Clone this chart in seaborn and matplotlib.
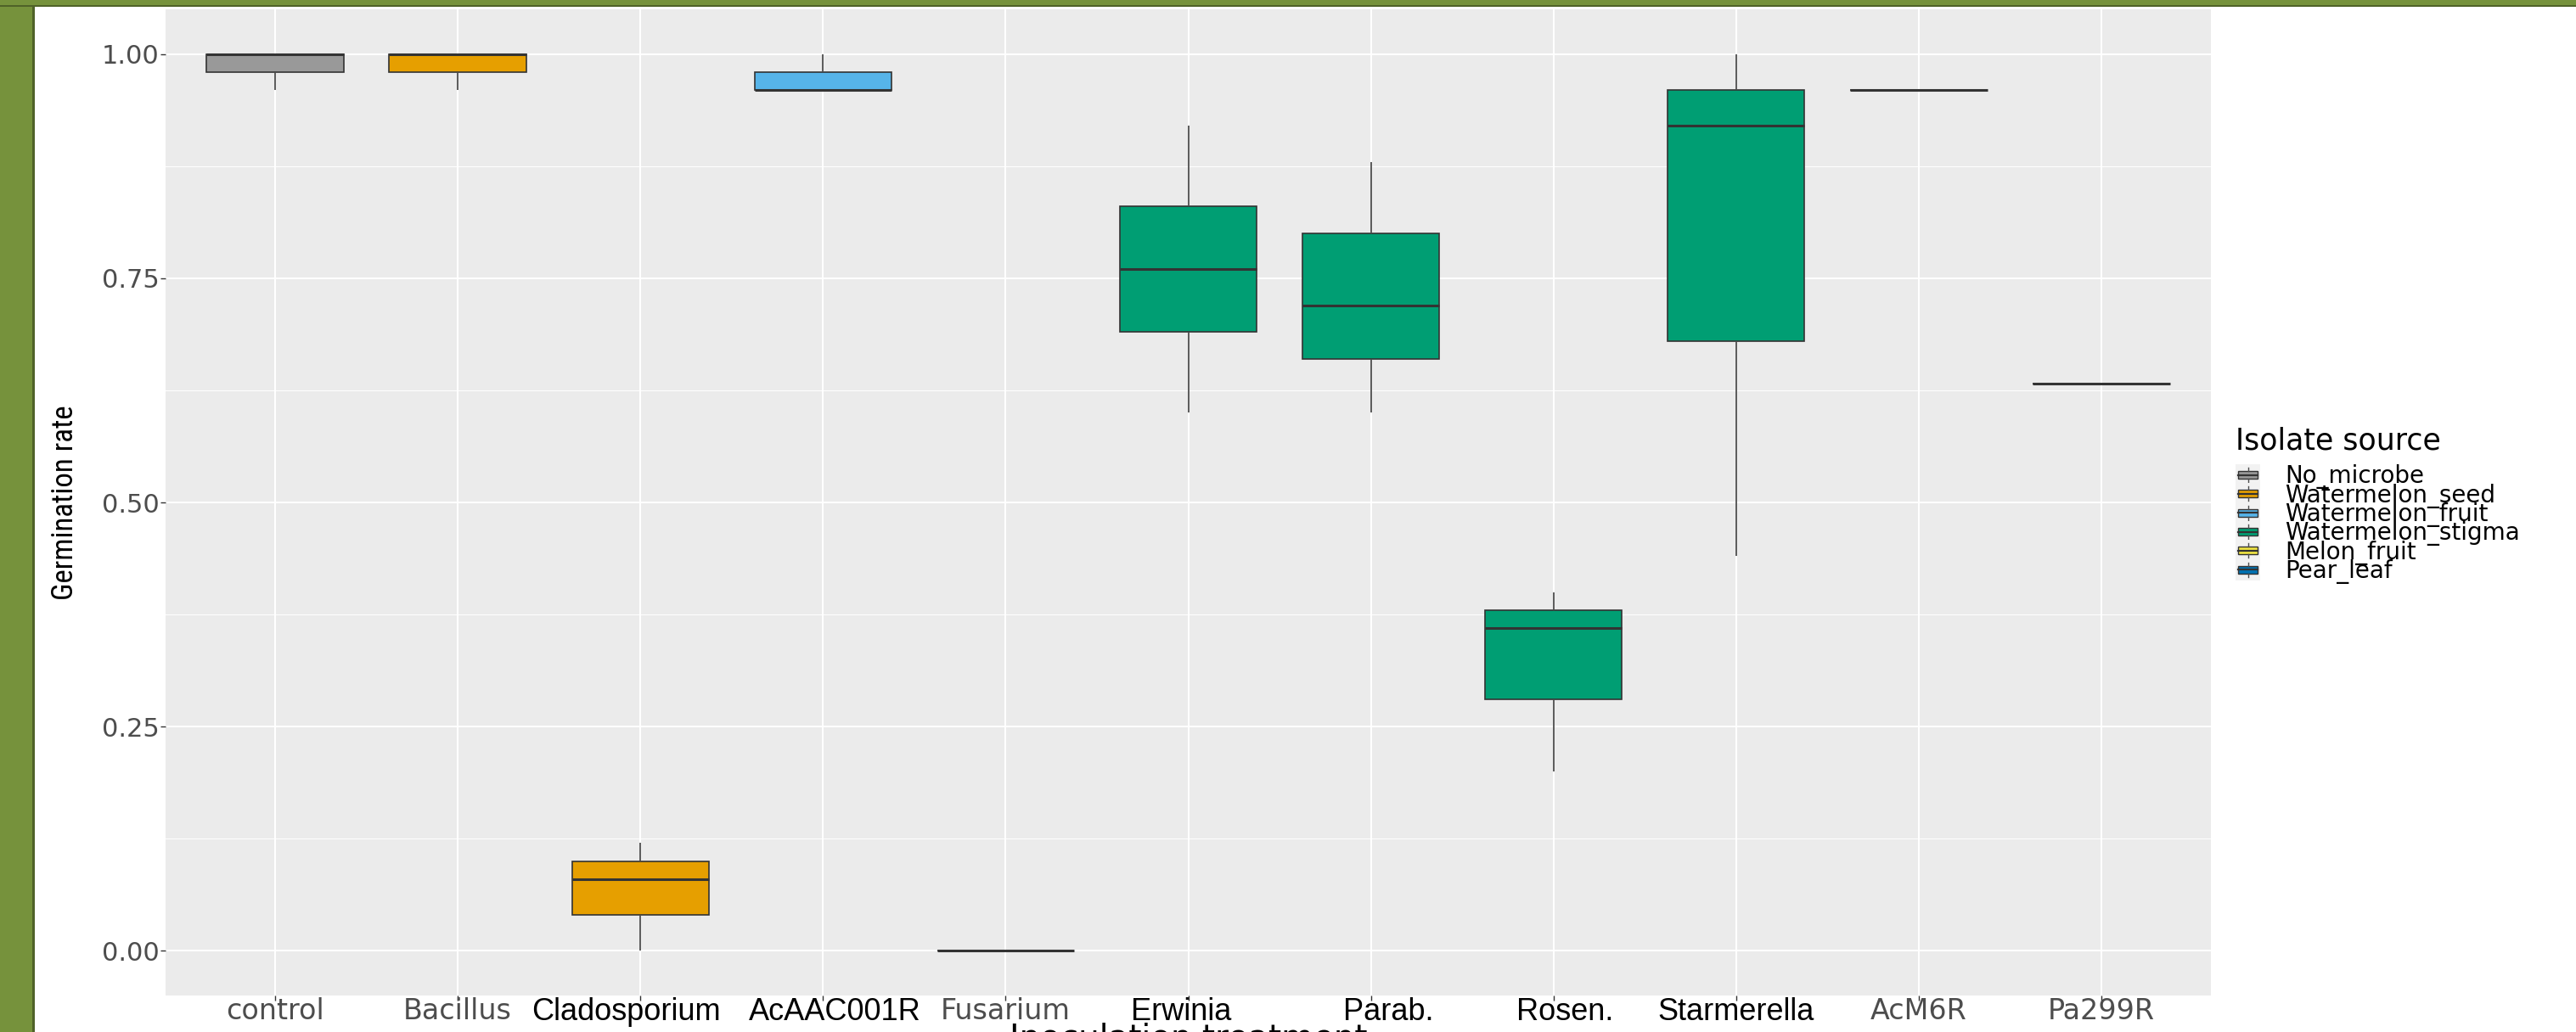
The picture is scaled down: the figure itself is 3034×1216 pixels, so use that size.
import matplotlib
matplotlib.use("Agg")
import matplotlib.pyplot as plt
from matplotlib.patches import Rectangle, Patch
from matplotlib.lines import Line2D
from matplotlib.legend_handler import HandlerBase
from matplotlib.transforms import ScaledTranslation
from matplotlib import font_manager
import seaborn as sns
import pandas as pd

# ---- data -------------------------------------------------------------
treatments = ["control", "Bacillus", "Cladosporium", "AcAAC001R", "Fusarium",
              "Erwinia", "Parab.", "Rosen.", "Starmerella", "AcM6R", "Pa299R"]
treatment_source = ["No_microbe", "Watermelon_seed", "Watermelon_seed",
                    "Watermelon_fruit", "Watermelon_seed", "Watermelon_stigma",
                    "Watermelon_stigma", "Watermelon_stigma", "Watermelon_stigma",
                    "Melon_fruit", "Pear_leaf"]
germination = [
    [0.96, 1.00, 1.00],          # control
    [0.96, 1.00, 1.00],          # Bacillus
    [0.00, 0.08, 0.12],          # Cladosporium
    [0.96, 0.96, 1.00],          # AcAAC001R
    [0.00, 0.00, 0.00],          # Fusarium
    [0.60, 0.72, 0.80, 0.92],    # Erwinia
    [0.60, 0.72, 0.88],          # Parab.
    [0.20, 0.36, 0.40],          # Rosen.
    [0.44, 0.92, 1.00],          # Starmerella
    [0.96, 0.96, 0.96],          # AcM6R
    [0.633, 0.633, 0.633],       # Pa299R
]
source_levels = ["No_microbe", "Watermelon_seed", "Watermelon_fruit",
                 "Watermelon_stigma", "Melon_fruit", "Pear_leaf"]
source_colors = ["#999999", "#E69F00", "#56B4E9", "#009E73", "#F0E442", "#0072B2"]
y_ticks = [0.00, 0.25, 0.50, 0.75, 1.00]
y_minor = [0.125, 0.375, 0.625, 0.875]

# relabelled tick names: drawn in black and nudged sideways (pixels)
dark_label_shift = {"Cladosporium": -17, "AcAAC001R": 14, "Erwinia": -8,
                    "Parab.": 21, "Rosen.": 14, "Starmerella": 0}

rows = []
for t, s, vals in zip(treatments, treatment_source, germination):
    for v in vals:
        rows.append({"treatment": t, "source": s, "rate": v})
df = pd.DataFrame(rows)
palette = dict(zip(source_levels, source_colors))

# a condensed face for the y-axis title, when one is available
installed = {f.name for f in font_manager.fontManager.ttflist}
ylab_family, ylab_size = "Liberation Sans", 22
for fam, size in [("Liberation Sans Narrow", 25), ("Roboto Condensed", 25),
                  ("Open Sans Condensed", 25), ("DejaVu Sans Condensed", 22)]:
    if fam in installed:
        ylab_family, ylab_size = fam, size
        break

# ---- figure -----------------------------------------------------------
W, H = 3034, 1216
fig = plt.figure(figsize=(W / 100, H / 100), dpi=100, facecolor="white")

def fx(px):
    return px / W

def fy(py):
    return 1 - py / H

# olive frame on the left and top edges
fig.add_artist(Rectangle((0, 0), fx(40), 1, transform=fig.transFigure,
                         facecolor="#76923C", edgecolor="none", zorder=0))
fig.add_artist(Rectangle((fx(38), 0), fx(3), 1, transform=fig.transFigure,
                         facecolor="#4F6228", edgecolor="none", zorder=0))
fig.add_artist(Rectangle((0, fy(7)), 1, 7 / H, transform=fig.transFigure,
                         facecolor="#76923C", edgecolor="none", zorder=0))
fig.add_artist(Rectangle((0, fy(8)), 1, 2 / H, transform=fig.transFigure,
                         facecolor="#4F6228", edgecolor="none", zorder=0))

ax = fig.add_axes([fx(195), fy(1173), fx(2604) - fx(195), fy(11) - fy(1173)])
ax.set_facecolor("#EBEBEB")
for sp in ax.spines.values():
    sp.set_visible(False)

sns.boxplot(data=df, x="treatment", y="rate", hue="source", order=treatments,
            hue_order=source_levels, palette=palette, dodge=False, width=0.75,
            linecolor="#333333", linewidth=1.2, showcaps=False, fliersize=0,
            saturation=1, legend=False,
            medianprops=dict(color="#333333", linewidth=2.2),
            whiskerprops=dict(color="#4D4D4D", linewidth=1.3),
            ax=ax)

ax.set_xlim(-0.6, len(treatments) - 0.4)
ax.set_ylim(-0.05, 1.05)
ax.set_axisbelow(True)
ax.set_yticks(y_ticks)
ax.set_yticklabels([f"{v:.2f}" for v in y_ticks])
ax.set_yticks(y_minor, minor=True)
ax.set_xticks(range(len(treatments)))
ax.set_xticklabels(treatments)
ax.grid(which="major", color="white", linewidth=1.5)
ax.grid(which="minor", axis="y", color="white", linewidth=0.7)
ax.tick_params(which="major", length=4, width=1.0, color="#333333",
               labelcolor="#4D4D4D", pad=1.5)
ax.tick_params(axis="x", which="major", pad=-2.5)
ax.tick_params(which="minor", length=0)

for lab in ax.get_yticklabels():
    lab.set_fontfamily("DejaVu Sans")
    lab.set_fontsize(22)
for lab in ax.get_xticklabels():
    name = lab.get_text()
    if name in dark_label_shift:
        lab.set_fontfamily("Liberation Sans")
        lab.set_fontsize(26)
        lab.set_color("black")
        shift = ScaledTranslation(dark_label_shift[name] / 100, 0, fig.dpi_scale_trans)
        lab.set_transform(lab.get_transform() + shift)
    else:
        lab.set_fontfamily("DejaVu Sans")
        lab.set_fontsize(24)
        lab.set_color("#4D4D4D")

ax.set_ylabel("Germination rate", fontsize=ylab_size, family=ylab_family, color="black")
ax.yaxis.set_label_coords(-0.0425, 0.5)
ax.set_xlabel("Inoculation treatment", fontsize=28, family="DejaVu Sans", color="black")
ax.xaxis.set_label_coords(0.5, -0.027)


# ---- legend with boxplot-shaped keys -----------------------------------
class BoxKey(HandlerBase):
    def create_artists(self, legend, orig_handle, xdescent, ydescent,
                       width, height, fontsize, trans):
        x0, y0 = -xdescent, -ydescent
        ext = height * 0.2
        bg = Rectangle((x0, y0 - ext), width, height + 2 * ext,
                       facecolor="#F2F2F2", edgecolor="none", transform=trans)
        bx = Rectangle((x0 + 0.1 * width, y0 + 0.25 * height), 0.8 * width,
                       0.5 * height, facecolor=orig_handle.get_facecolor(),
                       edgecolor="#333333", linewidth=1.0, transform=trans)
        cx = x0 + width / 2
        med = Line2D([x0 + 0.1 * width, x0 + 0.9 * width],
                     [y0 + 0.5 * height] * 2, color="#333333", lw=1.6, transform=trans)
        w1 = Line2D([cx, cx], [y0 + 0.02 * height, y0 + 0.25 * height],
                    color="#4D4D4D", lw=1.0, transform=trans)
        w2 = Line2D([cx, cx], [y0 + 0.75 * height, y0 + 0.98 * height],
                    color="#4D4D4D", lw=1.0, transform=trans)
        return [bg, bx, med, w1, w2]


handles = [Patch(facecolor=c, label=s) for s, c in zip(source_levels, source_colors)]
leg = fig.legend(handles=handles, labels=source_levels, loc="upper left",
                 bbox_to_anchor=(fx(2633), fy(503)), frameon=False,
                 borderpad=0, borderaxespad=0, handler_map={Patch: BoxKey()},
                 title="Isolate source", alignment="left",
                 prop={"family": "DejaVu Sans", "size": 20},
                 title_fontproperties={"family": "DejaVu Sans", "size": 25},
                 handlelength=1.05, handleheight=0.62, handletextpad=1.05,
                 labelspacing=-0.24)
# gap between the legend title and the first key row
leg._legend_box.sep = 7.4

fig.savefig("out.png", dpi=100)
